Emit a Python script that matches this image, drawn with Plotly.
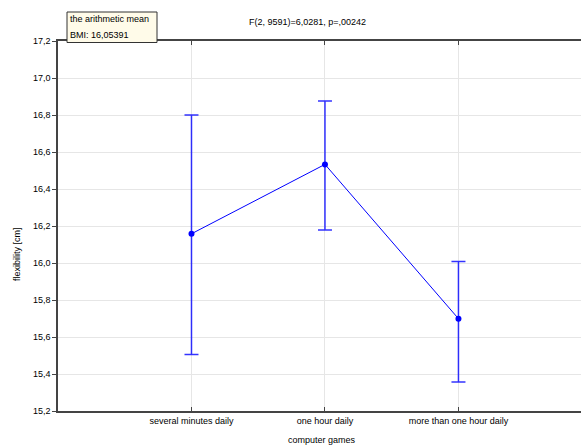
import plotly.graph_objects as go

categories = ["several minutes daily", "one hour daily", "more than one hour daily"]
means = [16.158, 16.533, 15.699]
upper = [16.800, 16.876, 16.008]
lower = [15.505, 16.178, 15.357]
y_ticks = [15.2, 15.4, 15.6, 15.8, 16.0, 16.2, 16.4, 16.6, 16.8, 17.0, 17.2]

err_plus = [u - m for u, m in zip(upper, means)]
err_minus = [m - l for m, l in zip(means, lower)]
xpos = list(range(len(categories)))

fig = go.Figure()
fig.add_trace(go.Scatter(
    x=xpos, y=means, mode="lines+markers",
    line=dict(color="#0000ff", width=1),
    marker=dict(color="#0000ff", size=6),
    error_y=dict(type="data", symmetric=False, array=err_plus, arrayminus=err_minus,
                 color="rgba(0,0,255,0.8)", thickness=1.5, width=7),
    showlegend=False,
))

font = dict(family="Liberation Sans, Arial, sans-serif", size=9, color="#000000")

L, T, W, H = 58, 41, 523, 370


def px_x(px):
    return (px - L) / W


def px_y(py):
    return (T + H - py) / H


fig.update_layout(
    width=581, height=447,
    margin=dict(l=L, r=0, t=T, b=447 - T - H),
    paper_bgcolor="white", plot_bgcolor="white",
    separators=", ",
    font=font,
    xaxis=dict(
        range=[-1, 2.918], tickmode="array", tickvals=xpos, ticktext=categories,
        showgrid=True, gridcolor="#e6e6e6", gridwidth=1,
        showline=True, linecolor="#444444", linewidth=1.5, mirror="allticks",
        ticks="inside", ticklen=4, tickcolor="#444444", zeroline=False,
        automargin=False, tickfont=font,
    ),
    yaxis=dict(
        range=[15.2, 17.2], tickmode="array", tickvals=y_ticks,
        tickformat=".1f",
        showgrid=True, gridcolor="#e6e6e6", gridwidth=1,
        showline=True, linecolor="#444444", linewidth=1.5,
        ticks="outside", ticklen=4, tickcolor="#444444", zeroline=False,
        automargin=False, tickfont=font,
    ),
    shapes=[
        dict(type="rect", xref="paper", yref="paper",
             x0=px_x(67), x1=px_x(157), y0=px_y(42.5), y1=px_y(12),
             fillcolor="#fffbe9", line=dict(color="#333333", width=1), layer="above"),
    ],
    annotations=[
        dict(text="the arithmetic mean", xref="paper", yref="paper",
             x=px_x(68), y=px_y(19), xanchor="left", yanchor="middle",
             showarrow=False, font=font),
        dict(text="BMI: 16,05391", xref="paper", yref="paper",
             x=px_x(68), y=px_y(34.5), xanchor="left", yanchor="middle",
             showarrow=False, font=font),
        dict(text="F(2, 9591)=6,0281, p=,00242", xref="paper", yref="paper",
             x=px_x(307), y=px_y(22), xanchor="center", yanchor="middle",
             showarrow=False, font=font),
        dict(text="computer games", xref="paper", yref="paper",
             x=px_x(322), y=px_y(440), xanchor="center", yanchor="middle",
             showarrow=False, font=font),
        dict(text="flexibility [cm]", xref="paper", yref="paper", textangle=-90,
             x=px_x(17), y=px_y(254), xanchor="center", yanchor="middle",
             showarrow=False, font=font),
    ],
)

fig.write_html(
    "out.html",
    config={"displayModeBar": False},
    post_script="document.body.style.margin='0';document.body.style.overflow='hidden';",
)
